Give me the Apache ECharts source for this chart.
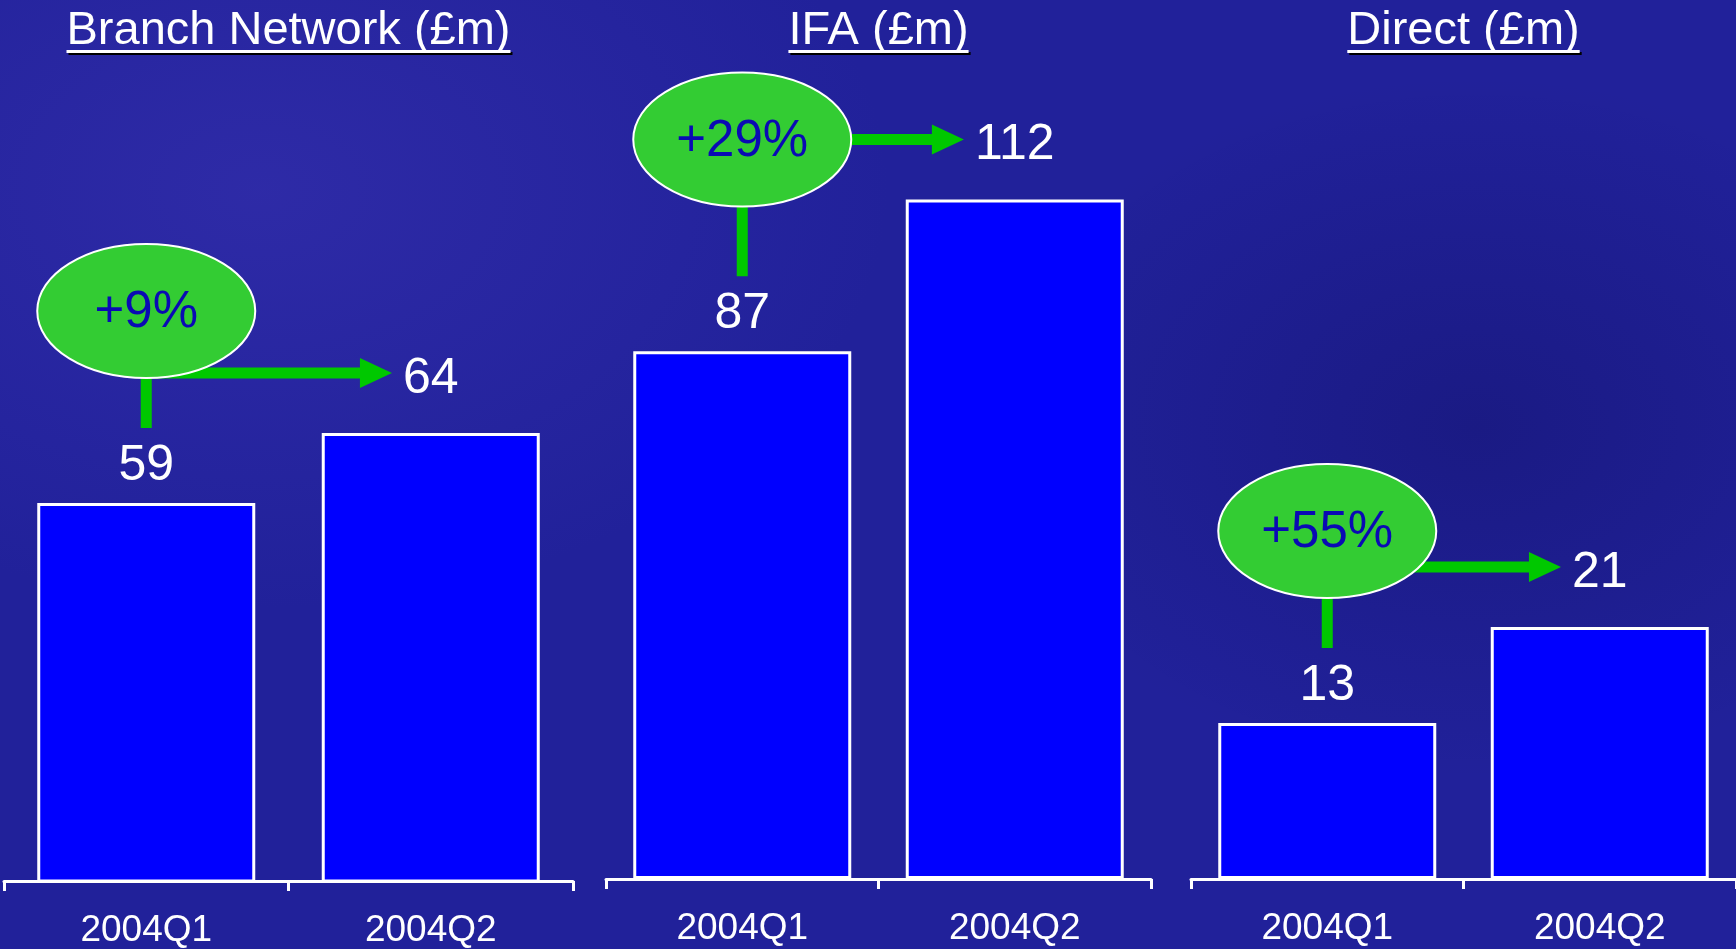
<!DOCTYPE html>
<html>
<head>
<meta charset="utf-8">
<script src="https://cdn.jsdelivr.net/npm/echarts@6/dist/echarts.min.js"></script>
<style>
  html, body { margin: 0; padding: 0; width: 1736px; height: 949px; overflow: hidden; }
  body {
    background:
      radial-gradient(ellipse 900px 600px at 15% 20%, rgba(70, 60, 190, 0.35), rgba(70, 60, 190, 0) 70%),
      radial-gradient(ellipse 700px 500px at 85% 45%, rgba(10, 10, 80, 0.30), rgba(10, 10, 80, 0) 70%),
      #21219a;
  }
  #chart { width: 1736px; height: 949px; }
</style>
</head>
<body>
<div id="chart"></div>
<script>
// Channel sales, first two quarters of 2004
const panelTitles = ['Branch Network (£m)', 'IFA (£m)', 'Direct (£m)'];
const quarters = ['2004Q1', '2004Q2'];
const branchValues = [59, 64];
const ifaValues = [87, 112];
const directValues = [13, 21];
const growthLabels = ['+9%', '+29%', '+55%'];

const panelValues = [branchValues, ifaValues, directValues];

// Layout of the three side-by-side panels
const panelGrids = [
  { left: 4, width: 569, top: 181, height: 700 },
  { left: 606, width: 545, top: 151, height: 728 },
  { left: 1191, width: 545, top: 159, height: 720 }
];
const panelRanges = [
  { min: 32, max: 82 },
  { min: 0, max: 120 },
  { min: 0, max: 60 }
];

const FONT = "'Liberation Sans', Arial, Helvetica, sans-serif";
const WHITE = '#ffffff';
const BAR_BLUE = '#0000ff';
const BUBBLE_GREEN = '#33cc33';
const ARROW_GREEN = '#00c800';
const BUBBLE_TEXT = '#0a0ab4';
const VALUE_SIZE = 50;

const measureCtx = document.createElement('canvas').getContext('2d');
function textWidth(text, size) {
  measureCtx.font = size + 'px ' + FONT;
  return measureCtx.measureText(text).width;
}

const shadow = { textShadowColor: '#000', textShadowOffsetX: 2, textShadowOffsetY: 2, textShadowBlur: 0 };

const grid = [], xAxis = [], yAxis = [], series = [], graphic = [];

panelGrids.forEach(function (g, i) {
  grid.push({ left: g.left, width: g.width, top: g.top, height: g.height, containLabel: false });

  xAxis.push({
    type: 'category',
    gridIndex: i,
    data: quarters,
    axisLine: { show: true, lineStyle: { color: WHITE, width: 3 } },
    axisTick: { show: true, length: 10, lineStyle: { color: WHITE, width: 3 } },
    axisLabel: Object.assign({ color: WHITE, fontSize: 37, fontFamily: FONT, margin: 31 }, shadow),
    splitLine: { show: false }
  });

  yAxis.push({
    type: 'value',
    gridIndex: i,
    min: panelRanges[i].min,
    max: panelRanges[i].max,
    show: false,
    splitLine: { show: false }
  });

  // Quarter bars with their values written above
  series.push({
    type: 'bar',
    xAxisIndex: i,
    yAxisIndex: i,
    barWidth: 218,
    data: panelValues[i].map(function (v, j) {
      return { value: v, label: { distance: j === 0 ? 12 : 29 } };
    }),
    itemStyle: { color: BAR_BLUE, borderColor: WHITE, borderWidth: 3 },
    label: Object.assign({
      show: true, position: 'top', color: WHITE, fontSize: VALUE_SIZE, fontFamily: FONT
    }, shadow),
    emphasis: { disabled: true },
    z: 2
  });

  // Growth bubble: stem down to the Q1 value, arrow across to the Q2 value
  series.push({
    type: 'custom',
    xAxisIndex: i,
    yAxisIndex: i,
    clip: false,
    z: 5,
    encode: { x: 0, y: 1 },
    data: [[0, panelValues[i][0], panelValues[i][1]]],
    renderItem: function (params, api) {
      const q1 = api.value(1), q2 = api.value(2);
      const p1 = api.coord([0, q1]);
      const p2 = api.coord([1, q2]);
      const arrowY = p2[1] - 60;
      const cx = p1[0];
      const cy = Math.min(arrowY, p1[1] - 192);
      const stemBottom = p1[1] - 75;
      const labelW = textWidth(String(q2), VALUE_SIZE);
      const tipX = p2[0] + 3 - labelW / 2 - 14;
      const headLen = 32, headHalf = 15, shaftHalf = 5.5;
      return {
        type: 'group',
        children: [
          { type: 'rect', shape: { x: cx - 5.5, y: cy, width: 11, height: stemBottom - cy }, style: { fill: ARROW_GREEN } },
          { type: 'rect', shape: { x: cx, y: arrowY - shaftHalf, width: tipX - headLen - cx + 1, height: shaftHalf * 2 }, style: { fill: ARROW_GREEN } },
          { type: 'polygon', shape: { points: [[tipX - headLen, arrowY - headHalf], [tipX, arrowY], [tipX - headLen, arrowY + headHalf]] }, style: { fill: ARROW_GREEN } },
          { type: 'ellipse', shape: { cx: cx, cy: cy, rx: 109, ry: 67 }, style: { fill: BUBBLE_GREEN, stroke: WHITE, lineWidth: 2 } },
          { type: 'text', style: { text: growthLabels[i], x: cx, y: cy + 2, align: 'center', verticalAlign: 'middle', fill: BUBBLE_TEXT, font: '51px ' + FONT } }
        ]
      };
    }
  });

  // Underlined panel heading
  const cxTitle = g.left + g.width / 2;
  const tw = textWidth(panelTitles[i], 47);
  graphic.push({
    type: 'text',
    x: cxTitle,
    y: 31,
    style: Object.assign({
      text: panelTitles[i], align: 'center', verticalAlign: 'middle',
      fill: WHITE, font: '47px ' + FONT
    }, shadow),
    z: 10
  });
  graphic.push({
    type: 'rect',
    shape: { x: cxTitle - tw / 2, y: 50, width: tw, height: 3 },
    style: { fill: WHITE, shadowColor: '#000', shadowOffsetX: 2, shadowOffsetY: 2, shadowBlur: 0 },
    z: 10
  });
});

const chart = echarts.init(document.getElementById('chart'), null, { renderer: 'canvas' });
chart.setOption({
  backgroundColor: 'transparent',
  animation: false,
  grid: grid,
  xAxis: xAxis,
  yAxis: yAxis,
  series: series,
  graphic: graphic
});
</script>
</body>
</html>
